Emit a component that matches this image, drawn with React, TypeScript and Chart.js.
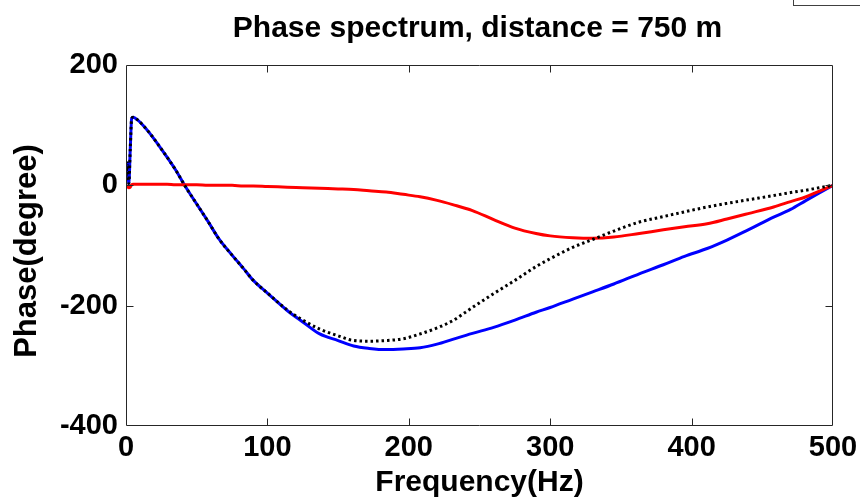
import { useEffect, useRef } from "react";
import { Chart, registerables } from "chart.js";

Chart.register(...registerables);

const titleText = "Phase spectrum, distance = 750 m";
const xAxisTitle = "Frequency(Hz)";
const yAxisTitle = "Phase(degree)";

const xTickValues = [0, 100, 200, 300, 400, 500];
const yTickValues = [-400, -200, 0, 200];

const frequencyHz = [
  0, 1, 2, 3, 4, 5, 7.5, 12, 17, 23, 29, 35, 42, 50, 58, 66, 75, 83, 90, 100,
  114, 125, 137, 150, 161, 172, 184, 196, 208, 220, 231, 245, 260, 275, 290,
  300, 316, 330, 345, 363, 380, 395, 411, 425, 440, 458, 470, 481, 490, 500,
];

const bluePhase = [
  15, 37, 3, 60, 111, 113, 110, 100, 86, 67, 47, 26, -2, -31, -60, -90, -116,
  -138, -158, -179, -208, -227, -247, -258, -267, -271, -273, -272, -270, -264,
  -256, -246, -236, -224, -211, -203, -189, -177, -164, -147, -132, -118, -105,
  -91, -74, -53, -40, -25, -13, 0,
];

const blackPhase = [
  15, 37, 3, 60, 111, 113, 110, 100, 86, 67, 47, 26, -2, -31, -60, -90, -116,
  -138, -158, -179, -207, -224, -239, -250, -258, -259, -258, -255, -247, -237,
  -225, -203, -180, -158, -135, -122, -103, -90, -76, -61, -52, -44, -36, -30,
  -24, -17, -12, -8, -4, 0,
];

const redPhase = [
  0, -2, -4, -3, 1, 2, 2, 2, 2, 2, 2, 1, 1, 1, 0, 0, 0, -1, -1, -2, -3, -4, -5,
  -6, -7, -9, -11, -15, -19, -25, -32, -42, -57, -71, -80, -84, -87, -88, -86,
  -80, -74, -69, -64, -56, -47, -36, -27, -19, -10, 0,
];

const FONT_FAMILY = '"Liberation Sans", Arial, Helvetica, sans-serif';

const toPoints = (ys: number[]) => frequencyHz.map((f, i) => ({ x: f, y: ys[i] }));

const framePlugin = {
  id: "matlabFrame",
  afterDraw(chart: any) {
    const { ctx, chartArea, scales } = chart;
    const { left, right, top, bottom } = chartArea;
    const xs = scales.x;
    const ys = scales.y;
    const L = Math.round(left) + 0.5;
    const R = Math.round(right) - 0.5;
    const T = Math.round(top) + 0.5;
    const B = Math.round(bottom) - 0.5;
    ctx.save();
    ctx.strokeStyle = "#262626";
    ctx.lineWidth = 1;
    ctx.beginPath();
    ctx.rect(L, T, R - L, B - T);
    const tickLen = 7;
    xTickValues.forEach((v) => {
      const px = Math.round(xs.getPixelForValue(v)) + 0.5;
      if (px <= L + 1 || px >= R - 1) return;
      ctx.moveTo(px, B);
      ctx.lineTo(px, B - tickLen);
      ctx.moveTo(px, T);
      ctx.lineTo(px, T + tickLen);
    });
    yTickValues.forEach((v) => {
      const py = Math.round(ys.getPixelForValue(v)) + 0.5;
      if (py <= T + 1 || py >= B - 1) return;
      ctx.moveTo(L, py);
      ctx.lineTo(L + tickLen, py);
      ctx.moveTo(R, py);
      ctx.lineTo(R - tickLen, py);
    });
    ctx.stroke();

    // partially visible legend box in the top-right corner
    ctx.strokeStyle = "#404040";
    ctx.strokeRect(793.5, -10, 120, 15.5);

    // title
    ctx.fillStyle = "#000";
    ctx.font = `bold 30px ${FONT_FAMILY}`;
    ctx.textAlign = "center";
    ctx.textBaseline = "alphabetic";
    ctx.fillText(titleText, (left + right) / 2 - 2, 37);

    // y axis title
    ctx.save();
    ctx.translate(27, 251);
    ctx.rotate(-Math.PI / 2);
    ctx.font = `bold 31px ${FONT_FAMILY}`;
    ctx.textAlign = "center";
    ctx.textBaseline = "middle";
    ctx.fillText(yAxisTitle, 0, 0);
    ctx.restore();

    ctx.restore();
  },
};

export default function App() {
  const canvasRef = useRef<HTMLCanvasElement | null>(null);

  useEffect(() => {
    const canvas = canvasRef.current;
    if (!canvas) return;
    const tickFont = { family: FONT_FAMILY, size: 29, weight: "bold" as const };
    const lineCommon = {
      borderWidth: 3,
      pointRadius: 0,
      cubicInterpolationMode: "monotone" as const,
      fill: false,
    };
    const chart = new Chart(canvas, {
      type: "line",
      data: {
        datasets: [
          {
            label: "black",
            data: toPoints(blackPhase),
            borderColor: "#000000",
            borderDash: [2.5, 3],
            ...lineCommon,
          },
          {
            label: "red",
            data: toPoints(redPhase),
            borderColor: "#ff0000",
            ...lineCommon,
          },
          {
            label: "blue",
            data: toPoints(bluePhase),
            borderColor: "#0000ff",
            ...lineCommon,
          },
        ],
      },
      options: {
        animation: false,
        responsive: false,
        devicePixelRatio: 1,
        layout: { padding: { top: 65, right: 27, left: 0, bottom: 0 } },
        plugins: {
          legend: { display: false },
          tooltip: { enabled: false },
          title: { display: false },
        },
        scales: {
          x: {
            type: "linear",
            min: 0,
            max: 500,
            grid: { display: false, drawTicks: false },
            border: { display: false },
            afterBuildTicks: (scale: any) => {
              scale.ticks = xTickValues.map((v) => ({ value: v }));
            },
            afterFit: (scale: any) => {
              scale.height = 75;
              scale.paddingLeft = 0;
              scale.paddingRight = 0;
            },
            ticks: {
              autoSkip: false,
              maxRotation: 0,
              padding: 5,
              color: "#000",
              font: tickFont,
            },
            title: {
              display: true,
              text: xAxisTitle,
              color: "#000",
              font: { family: FONT_FAMILY, size: 30, weight: "bold" as const },
              padding: { top: 0, bottom: 0 },
            },
          },
          y: {
            type: "linear",
            min: -400,
            max: 200,
            grid: { display: false, drawTicks: false },
            border: { display: false },
            afterBuildTicks: (scale: any) => {
              scale.ticks = yTickValues.map((v) => ({ value: v }));
            },
            afterFit: (scale: any) => {
              scale.width = 126;
              scale.paddingTop = 0;
              scale.paddingBottom = 0;
            },
            ticks: {
              autoSkip: false,
              padding: 8,
              color: "#000",
              font: tickFont,
            },
            title: { display: false },
          },
        },
      },
      plugins: [framePlugin],
    });
    return () => chart.destroy();
  }, []);

  return (
    <div style={{ position: "absolute", left: 0, top: 0, width: 860, height: 501, background: "#fff" }}>
      <canvas ref={canvasRef} width={860} height={501} style={{ width: 860, height: 501, display: "block" }} />
    </div>
  );
}
